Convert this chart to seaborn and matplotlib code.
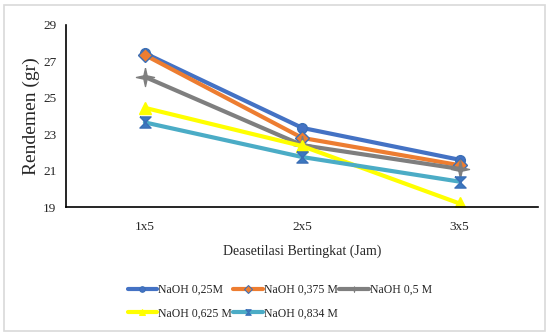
import numpy as np
import pandas as pd
import seaborn as sns
import matplotlib.pyplot as plt
from matplotlib.patches import Rectangle

# data
categories = ['1x5', '2x5', '3x5']
naoh_025 = [27.45, 23.35, 21.6]
naoh_0375 = [27.35, 22.8, 21.3]
naoh_05 = [26.15, 22.4, 21.1]
naoh_0625 = [24.45, 22.35, 19.2]
naoh_0834 = [23.65, 21.75, 20.4]

series = {
    'NaOH 0,25M': naoh_025,
    'NaOH 0,375 M': naoh_0375,
    'NaOH 0,5 M': naoh_05,
    'NaOH 0,625 M': naoh_0625,
    'NaOH 0,834 M': naoh_0834,
}

rows = []
for name, vals in series.items():
    for i, v in enumerate(vals):
        rows.append({'Deasetilasi': i, 'Rendemen': v, 'Seri': name})
df = pd.DataFrame(rows)

sns.set_theme(style='white')
plt.rcParams['font.family'] = ['Liberation Serif', 'DejaVu Serif']

palette = {
    'NaOH 0,25M': '#4472C4',
    'NaOH 0,375 M': '#ED7D31',
    'NaOH 0,5 M': '#7F7F7F',
    'NaOH 0,625 M': '#FFFF00',
    'NaOH 0,834 M': '#4BACC6',
}
hourglass = [(-1, 1), (1, 1), (-1, -1), (1, -1), (-1, 1)]
star4 = [(0, 1), (0.18, 0.18), (1, 0), (0.18, -0.18), (0, -1),
         (-0.18, -0.18), (-1, 0), (-0.18, 0.18), (0, 1)]
markers = {
    'NaOH 0,25M': 'o',
    'NaOH 0,375 M': 'D',
    'NaOH 0,5 M': star4,
    'NaOH 0,625 M': '^',
    'NaOH 0,834 M': hourglass,
}
edge = {
    'NaOH 0,25M': '#3B6FB6',
    'NaOH 0,375 M': '#3B6FB6',
    'NaOH 0,5 M': '#7F7F7F',
    'NaOH 0,625 M': '#FFFF00',
    'NaOH 0,834 M': '#3B6FB6',
}
face = {
    'NaOH 0,25M': '#4472C4',
    'NaOH 0,375 M': '#ED7D31',
    'NaOH 0,5 M': '#7F7F7F',
    'NaOH 0,625 M': '#FFFF00',
    'NaOH 0,834 M': '#3B78C0',
}
sizes = {
    'NaOH 0,25M': 7,
    'NaOH 0,375 M': 7,
    'NaOH 0,5 M': 13,
    'NaOH 0,625 M': 8,
    'NaOH 0,834 M': 8,
}

fig = plt.figure(figsize=(5.47, 3.33), dpi=100)
ax = fig.add_axes([0.121, 0.378, 0.863, 0.547])

sns.lineplot(data=df, x='Deasetilasi', y='Rendemen', hue='Seri',
             style='Seri', markers=markers, dashes=False, palette=palette,
             linewidth=3, ax=ax, legend=True)

names = list(series.keys())
for line, name in zip(ax.get_lines()[:len(names)], names):
    line.set_markeredgecolor(edge[name])
    line.set_markerfacecolor(face[name])
    line.set_markersize(sizes[name])
    line.set_markeredgewidth(1)

ax.set_xlim(-0.5, 2.5)
ax.set_ylim(19, 29)
ax.set_yticks([19, 21, 23, 25, 27, 29])
ax.set_xticks(range(len(categories)))
ax.set_xticklabels(categories)
ax.tick_params(axis='both', length=0, labelsize=9.5, pad=10)
ax.tick_params(axis='y', pad=7)
for s in ['top', 'right']:
    ax.spines[s].set_visible(False)
for s in ['left', 'bottom']:
    ax.spines[s].set_color('black')
    ax.spines[s].set_linewidth(1.2)

ax.set_xlabel('Deasetilasi Bertingkat (Jam)', fontsize=10, labelpad=8)
ax.set_ylabel('Rendemen (gr)', fontsize=14, labelpad=2)

handles, labels = ax.get_legend_handles_labels()
for h, name in zip(handles, labels):
    h.set_markeredgecolor(edge[name])
    h.set_markerfacecolor(face[name])
    h.set_markersize(4)
# row-major order for a 3-column legend
order = [0, 3, 1, 4, 2]
leg = ax.legend([handles[i] for i in order], [labels[i] for i in order],
                loc='upper left', bbox_to_anchor=(0.12, -0.395),
                ncol=3, frameon=False, fontsize=8.5, handlelength=2.5,
                handletextpad=0.1, columnspacing=0.1, labelspacing=1.0,
                borderaxespad=0)

fig.patches.append(Rectangle((0.008, 0.005), 0.988, 0.98, transform=fig.transFigure,
                             fill=False, edgecolor='#D9D9D9', linewidth=1.2))

fig.savefig('out.png', dpi=100)
